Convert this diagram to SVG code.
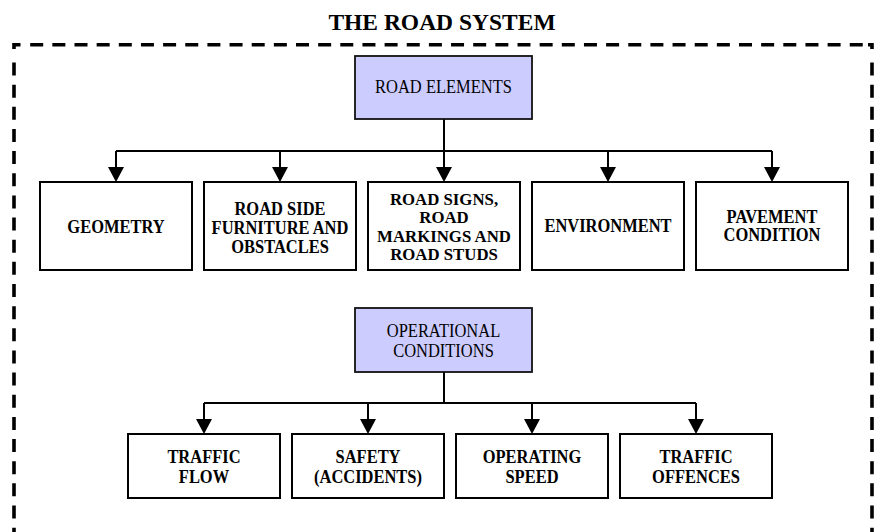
<svg xmlns="http://www.w3.org/2000/svg" width="876" height="532" viewBox="0 0 876 532">
  <defs>
    <marker id="arrow" viewBox="0 0 15 16" refX="5" refY="8" markerWidth="15" markerHeight="16" markerUnits="userSpaceOnUse" orient="auto">
      <path d="M0,0 L15,8 L0,16 Z" fill="#000"/>
    </marker>
    <style>
      .frame { fill: none; stroke: #000; stroke-width: 3.6; stroke-dasharray: 13 9.15; }
      .corner { fill: none; stroke: #000; stroke-width: 3.6; stroke-linejoin: miter; }
      .box { fill: #fff; stroke: #000; stroke-width: 2; }
      .head { fill: #ccccff; stroke: #111; stroke-width: 1.8; }
      .wire { fill: none; stroke: #000; stroke-width: 2; }
      .arr { fill: none; stroke: #000; stroke-width: 2; marker-end: url(#arrow); }
      /* node labels: slightly condensed serif */
      .t { font-family: "Liberation Serif", "Times New Roman", serif; font-size: 18px; text-anchor: middle; fill: #000;
           transform-box: fill-box; transform-origin: center; transform: scaleX(0.915); }
      .b { font-weight: bold; }
      /* four-line label needs a tighter setting */
      .tight { font-size: 16.8px; transform: none; }
      .title { font-family: "Liberation Serif", "Times New Roman", serif; font-size: 23.5px; font-weight: bold; text-anchor: middle; fill: #000; }
    </style>
  </defs>

  <rect width="876" height="532" fill="#fff"/>

  <!-- title -->
  <text class="title" x="442" y="30">THE ROAD SYSTEM</text>

  <!-- dashed system boundary (open at the bottom) -->
  <g id="boundary">
    <path class="corner" d="M14,49 V44.7 H20.5"/>
    <path class="corner" d="M868,44.7 H872 V49"/>
    <path class="frame" d="M30.2,44.7 H866"/>
    <path class="frame" d="M14,62.5 V540"/>
    <path class="frame" d="M872,62.5 V540"/>
  </g>

  <!-- connectors -->
  <g id="connectors">
    <path class="wire" d="M444,119 V151 M116,151 H772"/>
    <path class="arr" d="M116,151 V172"/>
    <path class="arr" d="M280,151 V172"/>
    <path class="arr" d="M444,151 V172"/>
    <path class="arr" d="M608,151 V172"/>
    <path class="arr" d="M772,151 V172"/>

    <path class="wire" d="M444,372 V403 M204,403 H696"/>
    <path class="arr" d="M204,403 V424"/>
    <path class="arr" d="M368,403 V424"/>
    <path class="arr" d="M532,403 V424"/>
    <path class="arr" d="M696,403 V424"/>
  </g>

  <!-- road elements -->
  <g id="road-elements">
    <rect class="head" x="355" y="56" width="177" height="63"/>
    <text class="t" x="443.5" y="93">ROAD ELEMENTS</text>
  </g>

  <g id="geometry">
    <rect class="box" x="40" y="182" width="152" height="88"/>
    <text class="t b" x="116" y="233">GEOMETRY</text>
  </g>

  <g id="road-side">
    <rect class="box" x="204" y="182" width="152" height="88"/>
    <text class="t b" x="280" y="215">ROAD SIDE</text>
    <text class="t b" x="280" y="234">FURNITURE AND</text>
    <text class="t b" x="280" y="253.3">OBSTACLES</text>
  </g>

  <g id="road-signs">
    <rect class="box" x="368" y="182" width="152" height="88"/>
    <text class="t b tight" x="444" y="204.5">ROAD SIGNS,</text>
    <text class="t b tight" x="444" y="223.1">ROAD</text>
    <text class="t b tight" x="444" y="241.7">MARKINGS AND</text>
    <text class="t b tight" x="444" y="260.3">ROAD STUDS</text>
  </g>

  <g id="environment">
    <rect class="box" x="532" y="182" width="152" height="88"/>
    <text class="t b" x="608" y="232.5">ENVIRONMENT</text>
  </g>

  <g id="pavement">
    <rect class="box" x="696" y="182" width="152" height="88"/>
    <text class="t b" x="772" y="223">PAVEMENT</text>
    <text class="t b" x="772" y="241.5">CONDITION</text>
  </g>

  <!-- operational conditions -->
  <g id="operational-conditions">
    <rect class="head" x="355" y="308" width="177" height="64"/>
    <text class="t" x="443.5" y="337.3">OPERATIONAL</text>
    <text class="t" x="443.5" y="356.7">CONDITIONS</text>
  </g>

  <g id="traffic-flow">
    <rect class="box" x="128" y="434" width="152" height="64"/>
    <text class="t b" x="204" y="463.3">TRAFFIC</text>
    <text class="t b" x="204" y="482.7">FLOW</text>
  </g>

  <g id="safety">
    <rect class="box" x="292" y="434" width="152" height="64"/>
    <text class="t b" x="368" y="463.3">SAFETY</text>
    <text class="t b" x="368" y="482.7">(ACCIDENTS)</text>
  </g>

  <g id="operating-speed">
    <rect class="box" x="456" y="434" width="152" height="64"/>
    <text class="t b" x="532" y="463.3">OPERATING</text>
    <text class="t b" x="532" y="482.7">SPEED</text>
  </g>

  <g id="traffic-offences">
    <rect class="box" x="620" y="434" width="152" height="64"/>
    <text class="t b" x="696" y="463.3">TRAFFIC</text>
    <text class="t b" x="696" y="482.7">OFFENCES</text>
  </g>
</svg>
